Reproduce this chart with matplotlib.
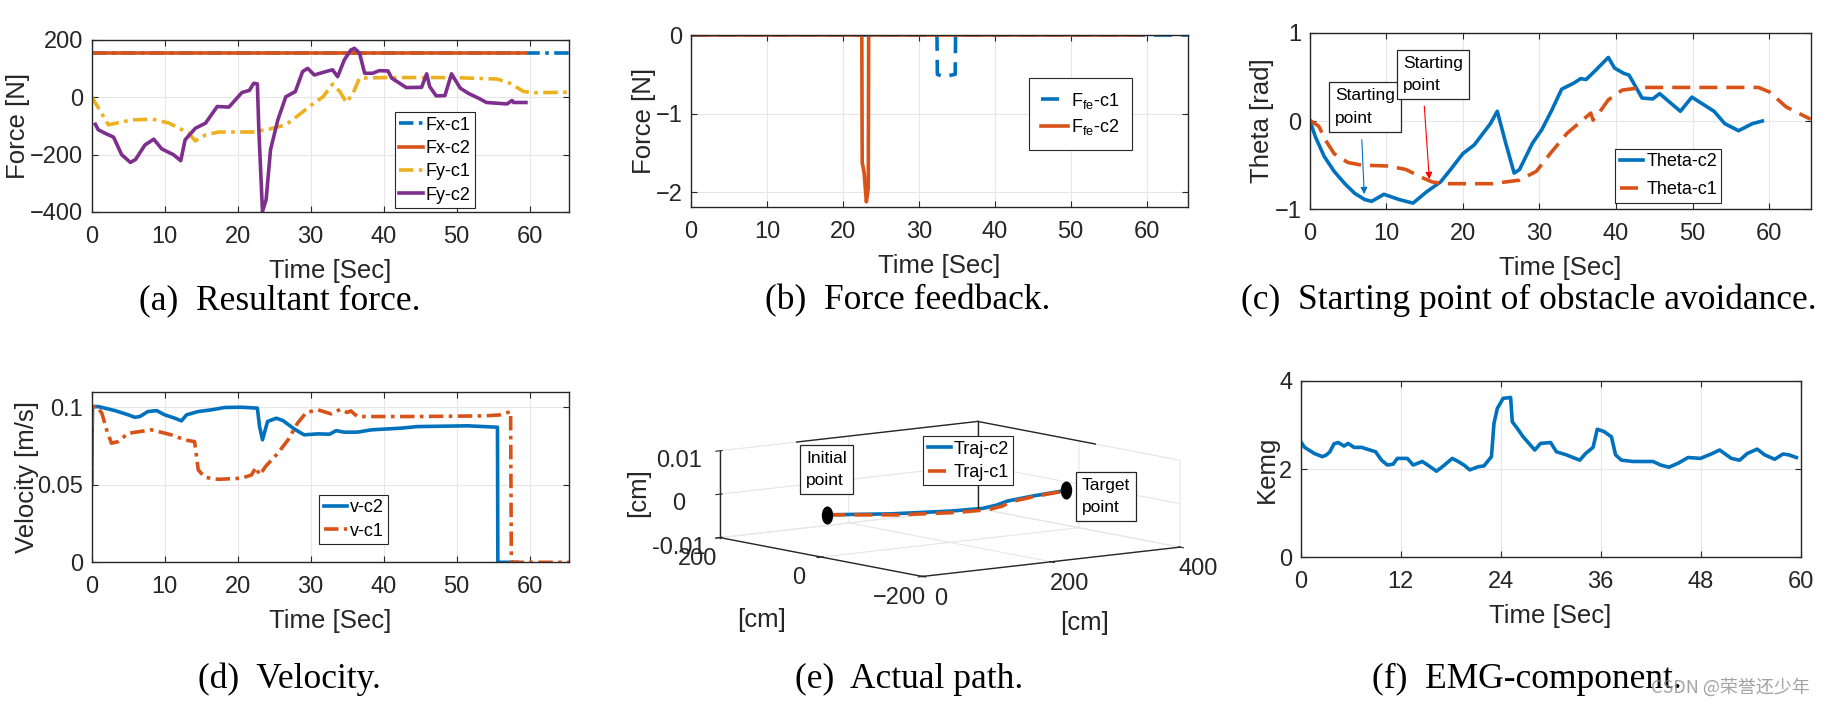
import numpy as np
import matplotlib
matplotlib.use('Agg')
import matplotlib.pyplot as plt
from matplotlib.path import Path
from matplotlib.transforms import Affine2D

plt.rcParams['font.family'] = ['Liberation Sans', 'DejaVu Sans']
plt.rcParams['mathtext.default'] = 'regular'
plt.rcParams['grid.color'] = '#e6e6e6'
plt.rcParams['grid.linewidth'] = 0.8
plt.rcParams['axes.edgecolor'] = '#262626'
plt.rcParams['xtick.color'] = '#262626'
plt.rcParams['ytick.color'] = '#262626'
plt.rcParams['axes.labelcolor'] = '#262626'

BLUE = '#0072BD'
ORANGE = '#D95319'
YELLOW = '#EDB120'
PURPLE = '#7E2F8E'
DASH = (0, (5, 2.5))
DASHDOT = (0, (4, 1.5, 1, 1.5))
XMAX = 65.4

# ---------------- (a) resultant force ----------------
t_fx_c1 = [0, 65.4]
fx_c1 = [155, 155]
t_fx_c2 = [0, 59.5]
fx_c2 = [155, 155]
t_fy_c1 = [0, 2.3, 3.7, 5.5, 8.3, 10.6, 13.3, 14.2, 15.6, 17.4, 22, 24.3, 26.6, 28.4,
           30.3, 31.7, 33, 34, 34.9, 35.8, 36.7, 40.4, 49.5, 55.5, 57.3, 59.2, 60.6, 65.4]
fy_c1 = [2, -96, -88, -79, -76, -90, -125, -152, -131, -121, -121, -111, -96, -61,
         -23, 2, 46, 20, -18, 14, 67, 69, 69, 64, 49, 20, 16, 18]
t_fy_c2 = [0.5, 0.9, 1.8, 3, 4.1, 5.3, 6, 7.3, 8.5, 9.6, 11.2, 12.2, 12.8, 14.2, 15.6,
           17.2, 18.8, 20.6, 21.6, 22.2, 22.7, 22.9, 23.4, 23.9, 24.5, 25.5, 26.6, 27.9,
           28.9, 29.6, 30.5, 32.1, 33, 33.7, 34.6, 35.5, 36, 36.7, 37.4, 38.5, 39.4, 40.6,
           41.1, 42.2, 43.1, 45.2, 45.9, 46.3, 47.2, 48.4, 49.3, 50.5, 51.6, 53, 54.1,
           56.9, 57.6, 57.8, 59.5]
fy_c2 = [-94, -113, -125, -139, -200, -227, -217, -166, -146, -180, -200, -221, -148,
         -108, -90, -32, -34, 17, 24, 49, 47, -113, -398, -357, -183, -79, 2, 20, 90,
         101, 78, 90, 96, 72, 130, 165, 171, 154, 84, 84, 93, 92, 67, 49, 34, 35, 82,
         38, 5, 6, 82, 32, 14, -3, -18, -23, -11, -18, -18]

# ---------------- (b) force feedback ----------------
t_ffe_c1 = [0, 32.4, 32.45, 33.2, 34.8, 34.85, 65.4]
ffe_c1 = [0, 0, -0.5, -0.53, -0.5, 0, 0]
t_ffe_c2 = [0, 22.5, 22.55, 22.8, 23.1, 23.35, 23.4, 59.3]
ffe_c2 = [0, 0, -1.62, -1.75, -2.12, -1.95, 0, 0]

# ---------------- (c) theta ----------------
t_th_c2 = [0, 0.76, 1.9, 3.2, 4.6, 5.9, 7.2, 8.1, 9.7, 11.7, 13.5, 15.3, 17.1, 18.4, 20,
           21.5, 23.6, 24.5, 25.6, 26.7, 27.4, 29.1, 30.3, 31.6, 32.9, 34.5, 35.4, 36.1,
           37.4, 39, 39.8, 41, 41.7, 43.4, 44.8, 45.7, 48.4, 49.9, 52.8, 54.2, 56, 57.8, 59.1]
th_c2 = [0.01, -0.18, -0.40, -0.57, -0.71, -0.82, -0.89, -0.91, -0.83, -0.89, -0.93,
         -0.80, -0.69, -0.55, -0.37, -0.27, -0.03, 0.11, -0.25, -0.59, -0.55, -0.25, -0.10,
         0.12, 0.36, 0.43, 0.48, 0.47, 0.58, 0.72, 0.60, 0.54, 0.52, 0.26, 0.25, 0.31,
         0.11, 0.27, 0.11, -0.03, -0.11, -0.03, 0.0]
t_th_c1 = [0, 1.2, 2.1, 3.2, 5, 6.8, 10.4, 12.6, 14.4, 16, 17.5, 23.8, 27.4, 29.6, 31.4,
           33.6, 36.7, 37, 37.6, 39, 40.8, 43.5, 58.6, 60, 62.2, 65.4]
th_c1 = [0.01, -0.06, -0.22, -0.37, -0.47, -0.50, -0.51, -0.55, -0.63, -0.69, -0.71,
         -0.71, -0.67, -0.57, -0.37, -0.14, 0.09, 0.01, 0.07, 0.24, 0.35, 0.38, 0.38,
         0.33, 0.16, 0.02]

# ---------------- (d) velocity ----------------
t_v_c2 = [0, 0.1, 0.9, 3.2, 5, 5.9, 6.6, 7.7, 8.9, 10, 11.4, 12.3, 13, 14.6, 16.4, 18.2,
          20.5, 22.7, 23, 23.4, 24.1, 25.3, 26.2, 27.8, 29.1, 31, 32.6, 33.5, 34.6, 36.4,
          38.3, 42.4, 44.6, 51.5, 55.6, 55.65, 58.3]
v_c2 = [0.05, 0.1004, 0.1004, 0.0978, 0.0951, 0.0935, 0.094, 0.0972, 0.0978, 0.0951,
        0.0929, 0.0912, 0.0951, 0.0972, 0.0983, 0.0998, 0.1, 0.0994, 0.0875, 0.079,
        0.0908, 0.0929, 0.0914, 0.0858, 0.0822, 0.0828, 0.0826, 0.0849, 0.0839, 0.0839,
        0.0854, 0.0865, 0.0875, 0.088, 0.0871, 0, 0]
t_v_c1 = [0, 0.1, 0.7, 1.4, 2.05, 2.7, 3.6, 5, 8.2, 10.9, 12.8, 14.1, 14.6, 15.5, 17.3,
          20.5, 21.9, 22.5, 23, 23.9, 25.5, 26.9, 28.2, 29.4, 31, 32.8, 34.1, 35, 35.5,
          36.4, 44.6, 53.7, 55.9, 57.4, 57.5, 65.4]
v_c1 = [0.05, 0.1, 0.1008, 0.096, 0.0854, 0.0768, 0.0778, 0.0832, 0.0854, 0.0822, 0.0789,
        0.0778, 0.0596, 0.0548, 0.0535, 0.0542, 0.0563, 0.0613, 0.0563, 0.0622, 0.0703,
        0.0789, 0.0897, 0.0966, 0.0983, 0.0957, 0.0987, 0.0966, 0.0976, 0.094, 0.094,
        0.0944, 0.095, 0.0972, 0, 0]

# ---------------- (e) actual path ----------------
path_x_c2 = [0, 67, 140, 184, 214, 245, 295, 356]
path_y_c2 = [-12, -53, -79, -85, -74, -56, -42, -30]
path_x_c1 = [0, 67, 140, 184, 214, 245, 295, 356]
path_y_c1 = [-12, -64, -93, -97, -85, -63, -46, -32]
path_z = [0, 0, 0, 0, 0, 0, 0, 0]

# ---------------- (f) EMG ----------------
t_emg = [0, 0.47, 1.65, 2.6, 3.1, 3.5, 4, 4.5, 5.2, 5.7, 6.4, 7.3, 8.3, 9, 9.7, 10.4,
         11.1, 11.6, 12.8, 13.5, 14.6, 15.4, 16.3, 17, 18.2, 18.9, 19.6, 20.3, 21.3, 22,
         22.9, 23.2, 23.6, 24.3, 25.2, 25.4, 26, 26.7, 27.4, 28.1, 28.8, 30, 30.7, 31.9,
         33.5, 34.2, 35.1, 35.6, 36.4, 37.3, 37.8, 38.5, 39.9, 42.3, 43.2, 44.2, 45.3,
         46.5, 48, 49.4, 50.3, 51.7, 52.7, 53.6, 54.8, 55.7, 56.9, 57.9, 58.6, 59.5]
emg = [2.62, 2.49, 2.35, 2.28, 2.32, 2.39, 2.57, 2.6, 2.52, 2.58, 2.49, 2.49, 2.43, 2.39,
       2.2, 2.09, 2.11, 2.24, 2.24, 2.09, 2.17, 2.07, 1.95, 2.05, 2.24, 2.17, 2.09, 1.98,
       2.05, 2.07, 2.28, 3.03, 3.37, 3.6, 3.62, 3.07, 2.92, 2.73, 2.58, 2.43, 2.58, 2.6,
       2.39, 2.32, 2.2, 2.35, 2.49, 2.9, 2.85, 2.73, 2.32, 2.2, 2.17, 2.17, 2.09, 2.04,
       2.13, 2.26, 2.24, 2.35, 2.43, 2.24, 2.2, 2.35, 2.45, 2.32, 2.22, 2.34, 2.32, 2.26]

W, H = 1837, 709
fig = plt.figure(figsize=(W / 100, H / 100), dpi=100)


def rect(l, t, r, b):
    return [l / W, 1 - b / H, (r - l) / W, (b - t) / H]


def style(ax, xlabel, ylabel, ylabelpad=0):
    ax.tick_params(direction='in', length=4, width=0.8, top=True, right=True,
                   labelsize=17)
    ax.tick_params(axis='x', pad=10)
    ax.tick_params(axis='y', pad=6)
    for s in ax.spines.values():
        s.set_linewidth(1.0)
    ax.grid(True)
    ax.set_axisbelow(True)
    ax.set_xlabel(xlabel, fontsize=18.5, labelpad=8)
    ax.set_ylabel(ylabel, fontsize=18.5, labelpad=ylabelpad)


def legend(ax, loc, anchor, **kw):
    opts = dict(fontsize=13, fancybox=False, framealpha=1, edgecolor='#262626',
                handlelength=1.3, handletextpad=0.15, borderpad=0.25,
                labelspacing=0.35, borderaxespad=0)
    opts.update(kw)
    lg = ax.legend(loc=loc, bbox_to_anchor=anchor, **opts)
    lg.get_frame().set_linewidth(0.8)
    return lg


LW = 2.6

# (a)
ax1 = fig.add_axes(rect(91.7, 40, 569, 212))
ax1.plot(t_fx_c1, fx_c1, color=BLUE, lw=LW, ls=DASHDOT, label='Fx-c1')
ax1.plot(t_fx_c2, fx_c2, color=ORANGE, lw=LW, label='Fx-c2')
ax1.plot(t_fy_c1, fy_c1, color=YELLOW, lw=LW, ls=DASHDOT, label='Fy-c1')
ax1.plot(t_fy_c2, fy_c2, color=PURPLE, lw=LW, label='Fy-c2')
ax1.set_xlim(0, XMAX)
ax1.set_ylim(-400, 200)
ax1.set_xticks([0, 10, 20, 30, 40, 50, 60])
ax1.set_yticks([-400, -200, 0, 200])
style(ax1, 'Time [Sec]', 'Force [N]')
legend(ax1, 'lower right', (0.803, 0.023))

# (b)
ax2 = fig.add_axes(rect(691, 35, 1187.5, 207.3))
ax2.plot(t_ffe_c1, ffe_c1, color=BLUE, lw=LW, ls=DASH, label='F$_{fe}$-c1')
ax2.plot(t_ffe_c2, ffe_c2, color=ORANGE, lw=LW, label='F$_{fe}$-c2')
ax2.set_xlim(0, XMAX)
ax2.set_ylim(-2.19, 0)
ax2.set_xticks([0, 10, 20, 30, 40, 50, 60])
ax2.set_yticks([-2, -1, 0])
style(ax2, 'Time [Sec]', 'Force [N]')
legend(ax2, 'upper right', (0.888, 0.75), borderpad=0.7, handlelength=1.5)

# (c)
ax3 = fig.add_axes(rect(1309.6, 32.7, 1810.6, 209.3))
ax3.plot(t_th_c2, th_c2, color=BLUE, lw=LW, label='Theta-c2')
ax3.plot(t_th_c1, th_c1, color=ORANGE, lw=LW, ls=DASH, label='Theta-c1')
ax3.set_xlim(0, XMAX)
ax3.set_ylim(-1, 1)
ax3.set_xticks([0, 10, 20, 30, 40, 50, 60])
ax3.set_yticks([-1, 0, 1])
style(ax3, 'Time [Sec]', 'Theta [rad]')
legend(ax3, 'lower right', (0.822, 0.037), labelspacing=0.6)
box = dict(boxstyle='square,pad=0.35', fc='white', ec='#262626', lw=0.9)
ax3.text(3.3, 0.37, 'Starting\npoint', fontsize=12.5, va='top', ha='left',
         linespacing=1.6, bbox=box)
ax3.text(12.2, 0.74, 'Starting\npoint', fontsize=12.5, va='top', ha='left',
         linespacing=1.6, bbox=box)
ax3.annotate('', xy=(7.15, -0.86), xytext=(6.8, -0.18),
             arrowprops=dict(arrowstyle='-|>', color=BLUE, lw=0.8, mutation_scale=10))
ax3.annotate('', xy=(15.65, -0.69), xytext=(14.95, 0.2),
             arrowprops=dict(arrowstyle='-|>', color='red', lw=0.8, mutation_scale=10))

# (d)
ax4 = fig.add_axes(rect(91.7, 391.7, 569, 562.3))
ax4.plot(t_v_c2, v_c2, color=BLUE, lw=LW, label='v-c2')
ax4.plot(t_v_c1, v_c1, color=ORANGE, lw=LW, ls=DASHDOT, label='v-c1')
ax4.set_xlim(0, XMAX)
ax4.set_ylim(0, 0.11)
ax4.set_xticks([0, 10, 20, 30, 40, 50, 60])
ax4.set_yticks([0, 0.05, 0.1])
ax4.set_yticklabels(['0', '0.05', '0.1'])
style(ax4, 'Time [Sec]', 'Velocity [m/s]', ylabelpad=-1)
legend(ax4, 'lower right', (0.621, 0.107))

# (f)
ax6 = fig.add_axes(rect(1300.7, 380.7, 1800.5, 557.3))
ax6.plot(t_emg, emg, color=BLUE, lw=LW)
ax6.set_xlim(0, 60)
ax6.set_ylim(0, 4)
ax6.set_xticks([0, 12, 24, 36, 48, 60])
ax6.set_yticks([0, 2, 4])
style(ax6, 'Time [Sec]', 'Kemg')

# (e) 3D path
cx, cy, half = 946, 503, 150
ax5 = fig.add_axes(rect(cx - half, cy - half, cx + half, cy + half),
                   projection='3d', proj_type='ortho')
ax5.view_init(elev=8.5, azim=-127.6)
ax5.set_box_aspect((1, 1.02, 0.27), zoom=1.53)
for a in (ax5.xaxis, ax5.yaxis, ax5.zaxis):
    a.set_pane_color((1, 1, 1, 0))
    a.pane.set_edgecolor('none')
    a.line.set_color('#262626')
    a.line.set_linewidth(1.0)
ax5.plot(path_x_c2, path_y_c2, path_z, color=BLUE, lw=LW, label='Traj-c2')
ax5.plot(path_x_c1, path_y_c1, path_z, color=ORANGE, lw=LW, ls=DASH, label='Traj-c1')
ell = Path.unit_circle().transformed(Affine2D().scale(0.6, 1.0))
ax5.plot([path_x_c2[0], path_x_c2[-1]], [path_y_c2[0], path_y_c2[-1]],
         [path_z[0], path_z[-1]], ls='none', marker=ell, ms=12, color='k')
ax5.set_xlim(0, 400)
ax5.set_ylim(-200, 200)
ax5.set_zlim(-0.01, 0.01)
# back edges of the box
xl, yl, zl = (0, 400), (-200, 200), (-0.01, 0.01)
for xs, ys, zs in [((xl[0], xl[0]), (yl[1], yl[1]), zl),
                   ((xl[1], xl[1]), (yl[1], yl[1]), zl),
                   ((xl[1], xl[1]), (yl[0], yl[0]), zl),
                   (xl, (yl[1], yl[1]), (zl[1], zl[1])),
                   ((xl[1], xl[1]), yl, (zl[1], zl[1]))]:
    ax5.plot(xs, ys, zs, color='#262626', lw=1.0)
ax5.set_xticks([0, 200, 400])
ax5.set_yticks([-200, 0, 200])
ax5.set_zticks([-0.01, 0, 0.01])
ax5.set_zticklabels(['-0.01', '0', '0.01'])
ax5.tick_params(labelsize=17, pad=2)
# axis labels of the 3D view, placed as in the reference
fig.text(762 / W, 1 - 620 / H, '[cm]', fontsize=18.5, color='#262626',
         ha='center', va='center')
fig.text(1085 / W, 1 - 623 / H, '[cm]', fontsize=18.5, color='#262626',
         ha='center', va='center')
fig.text(638 / W, 1 - 493 / H, '[cm]', fontsize=18.5, color='#262626',
         ha='center', va='center', rotation=90)
lg5 = ax5.legend(loc='upper left', bbox_to_anchor=(923 / W, 1 - 436 / H),
                 bbox_transform=fig.transFigure, fontsize=13, fancybox=False,
                 framealpha=1, edgecolor='#262626', handlelength=1.3,
                 handletextpad=0.15, borderpad=0.25, labelspacing=0.35,
                 borderaxespad=0)
lg5.get_frame().set_linewidth(0.8)
fig.text(806 / W, 1 - 451 / H, 'Initial\npoint', fontsize=12.5, va='top', ha='left',
         linespacing=1.6, bbox=box)
fig.text(1082 / W, 1 - 478 / H, 'Target\npoint', fontsize=12.5, va='top', ha='left',
         linespacing=1.6, bbox=box)

# captions
caps = [('(a)  Resultant force.', 279.6, 309), ('(b)  Force feedback.', 907.6, 309),
        ('(c)  Starting point of obstacle avoidance.', 1529, 309),
        ('(d)  Velocity.', 289, 688), ('(e)  Actual path.', 909.6, 688),
        ('(f)  EMG-component.', 1527, 688)]
for s, x, y in caps:
    fig.text(x / W, 1 - y / H, s, ha='center', va='baseline', fontsize=25.5,
             family='Liberation Serif')

fig.text(1651 / W, 1 - 687 / H, 'CSDN @荣誉还少年', fontsize=13, color='#8c8c8c',
         alpha=0.8, va='center', ha='left', family=['Noto Sans CJK SC', 'DejaVu Sans'])

fig.savefig('out.png', dpi=100)
